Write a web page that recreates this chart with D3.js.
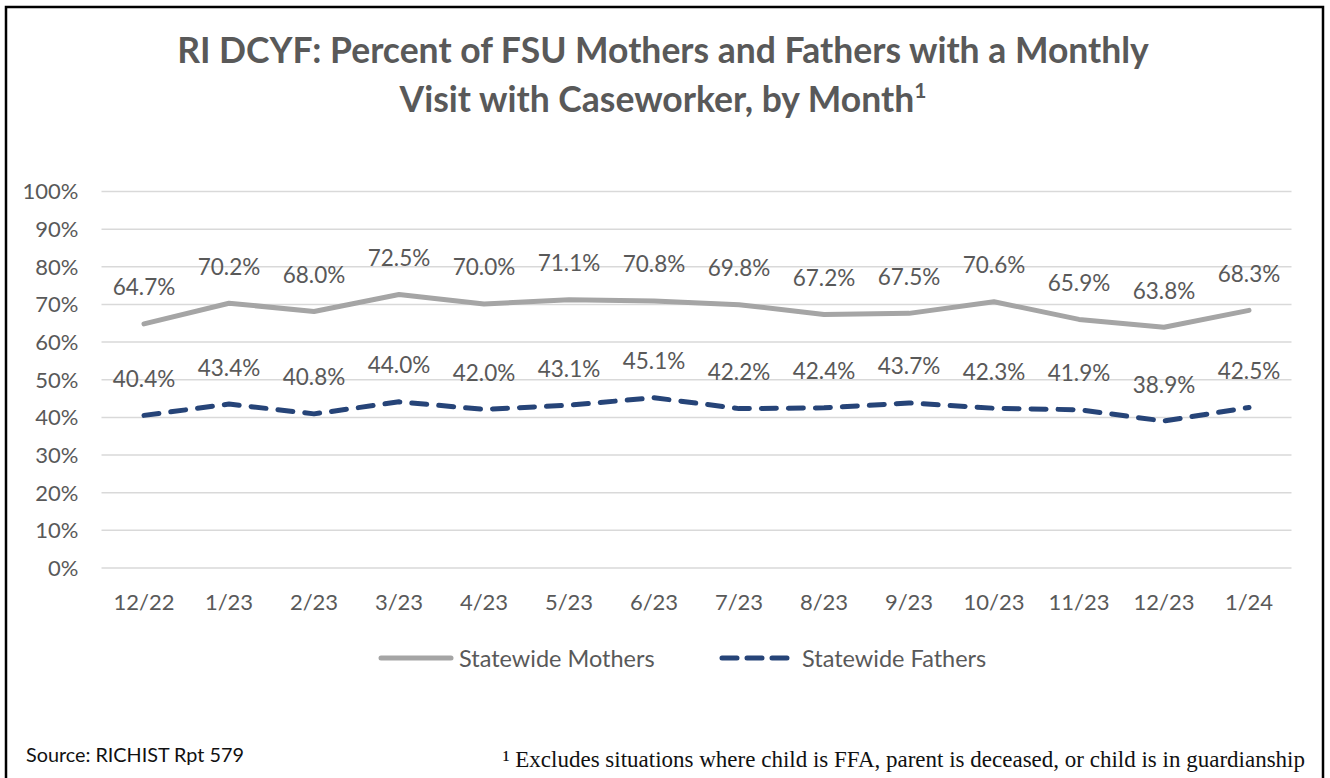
<!DOCTYPE html>
<html>
<head>
<meta charset="utf-8">
<script src="https://cdn.jsdelivr.net/npm/d3@7"></script>
<style>
  body { margin: 0; background: #fff; }
  text { font-family: Lato, "Open Sans", sans-serif; }
</style>
</head>
<body>
<script>
var months = ['12/22', '1/23', '2/23', '3/23', '4/23', '5/23', '6/23', '7/23', '8/23', '9/23', '10/23', '11/23', '12/23', '1/24'];
var mothers = [64.7, 70.2, 68.0, 72.5, 70.0, 71.1, 70.8, 69.8, 67.2, 67.5, 70.6, 65.9, 63.8, 68.3];
var fathers = [40.4, 43.4, 40.8, 44.0, 42.0, 43.1, 45.1, 42.2, 42.4, 43.7, 42.3, 41.9, 38.9, 42.5];
var yTicks = [0, 10, 20, 30, 40, 50, 60, 70, 80, 90, 100];
var titleLines = ['RI DCYF: Percent of FSU Mothers and Fathers with a Monthly', 'Visit with Caseworker, by Month'];
var seriesNames = ['Statewide Mothers', 'Statewide Fathers'];

var W = 1330, H = 778;
var txt = '#595959';
var grey = '#a5a5a5', navy = '#264478';

var svg = d3.select('body').append('svg').attr('width', W).attr('height', H);

// outer frame (runs off the bottom like the original)
svg.append('rect')
  .attr('x', 6).attr('y', 7).attr('width', 1317).attr('height', 820)
  .attr('fill', 'none').attr('stroke', '#000').attr('stroke-width', 2.5);

// title
var title = svg.append('g').attr('fill', txt).attr('font-weight', 'bold').attr('font-size', 35.5);
title.append('text').attr('x', 663).attr('y', 63).attr('text-anchor', 'middle').text(titleLines[0]);
var t2 = title.append('text').attr('x', 663).attr('y', 112).attr('text-anchor', 'middle').text(titleLines[1]);
t2.append('tspan').attr('font-size', 21).attr('dy', -14).text('1');

var x = d3.scaleBand().domain(months).range([101.5, 1291.5]);
var y = d3.scaleLinear().domain([0, 100]).range([567.5, 191]);
var cx = function(d, i) { return x(months[i]) + x.bandwidth() / 2; };

// gridlines + y labels
var yAxis = d3.axisLeft(y).tickValues(yTicks).tickSize(-(1291.5 - 101.5)).tickFormat(function(d) { return d + '%'; });
var ga = svg.append('g').attr('transform', 'translate(101.5,0)').call(yAxis);
ga.select('.domain').remove();
ga.selectAll('line').attr('stroke', '#d9d9d9').attr('stroke-width', 1.5);
ga.selectAll('text').attr('x', -23).attr('dy', '0.36em').attr('fill', txt)
  .attr('font-size', 22).style('font-family', 'Lato, sans-serif');

// x labels
var xAxis = d3.axisBottom(x).tickSize(0);
var gx = svg.append('g').attr('transform', 'translate(0,567.5)').call(xAxis);
gx.select('.domain').remove();
gx.selectAll('text').attr('y', 42).attr('dy', 0).attr('fill', txt)
  .attr('font-size', 22).style('font-family', 'Lato, sans-serif');

var line = d3.line().x(cx).y(function(d) { return y(d); });

svg.append('path').datum(mothers).attr('d', line)
  .attr('fill', 'none').attr('stroke', grey).attr('stroke-width', 5)
  .attr('stroke-linejoin', 'round').attr('stroke-linecap', 'round');
svg.append('path').datum(fathers).attr('d', line)
  .attr('fill', 'none').attr('stroke', navy).attr('stroke-width', 5)
  .attr('stroke-dasharray', '15,12')
  .attr('stroke-linejoin', 'round').attr('stroke-linecap', 'round');

// data labels
[mothers, fathers].forEach(function(s) {
  svg.append('g').selectAll('text').data(s).enter().append('text')
    .attr('x', cx).attr('y', function(d) { return y(d) - 28.5; })
    .attr('text-anchor', 'middle').attr('fill', txt).attr('font-size', 22.5)
    .text(function(d) { return d.toFixed(1) + '%'; });
});

// legend
var leg = svg.append('g');
leg.append('line').attr('x1', 381).attr('x2', 451).attr('y1', 658).attr('y2', 658)
  .attr('stroke', grey).attr('stroke-width', 5).attr('stroke-linecap', 'round');
leg.append('text').attr('x', 459).attr('y', 667).attr('fill', txt).attr('font-size', 23.5).text(seriesNames[0]);
leg.append('line').attr('x1', 722).attr('x2', 787).attr('y1', 658).attr('y2', 658)
  .attr('stroke', navy).attr('stroke-width', 5).attr('stroke-linecap', 'round')
  .attr('stroke-dasharray', '15,10');
leg.append('text').attr('x', 802).attr('y', 667).attr('fill', txt).attr('font-size', 23.5).text(seriesNames[1]);

// source + footnote
svg.append('text').attr('x', 26).attr('y', 762).attr('fill', '#111').attr('font-size', 19.8)
  .text('Source: RICHIST Rpt 579');
svg.append('text').attr('x', 1305).attr('y', 767).attr('text-anchor', 'end')
  .style('font-family', '"Liberation Serif", serif').attr('font-size', 23).attr('fill', '#111')
  .text('\u00b9 Excludes situations where child is FFA, parent is deceased, or child is in guardianship');
</script>
</body>
</html>
